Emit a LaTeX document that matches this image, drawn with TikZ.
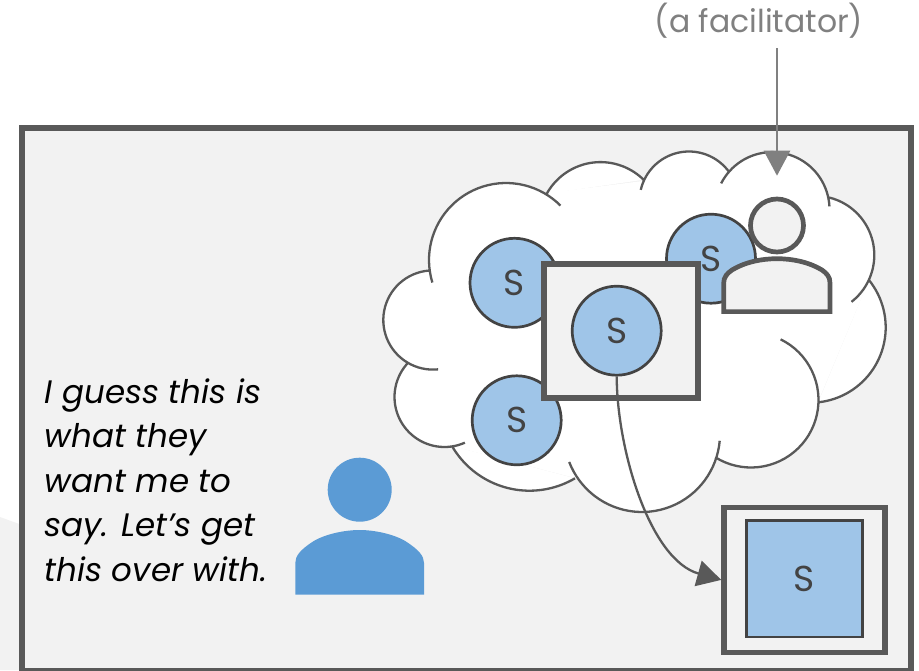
\documentclass[tikz,border=0pt]{standalone}
\usepackage{fontspec}
\setmainfont{Poppins}[ItalicFont=* Italic]
\usepackage{xcolor}
\usetikzlibrary{arrows.meta}
\definecolor{framegray}{HTML}{595959}
\definecolor{panelgray}{HTML}{F2F2F2}
\definecolor{inkgray}{HTML}{434343}
\definecolor{labelgray}{HTML}{808080}
\definecolor{studentblue}{HTML}{9FC5E8}
\definecolor{personblue}{HTML}{5B9BD5}
\tikzset{
	student/.style={circle, draw=inkgray, fill=studentblue, line width=2.7pt, minimum size=89pt, inner sep=0pt, text=inkgray, font=\fontsize{36}{36}\selectfont},
	frontbox/.style={draw=framegray, fill=panelgray, line width=5.6pt, inner sep=0pt},
	cloudline/.style={draw=framegray, line width=2.3pt},
}
\newcommand{\lobe}[5]{plot[domain=#4:#5, samples=40] ({#1+#3*cos(\x)},{#2+#3*sin(\x)})}
\newcommand{\cloudlobes}{
	\lobe{506}{260}{77}{163}{315}
	\lobe{600.5}{223.6}{61.5}{209}{314.5}
	\lobe{689}{201}{49.5}{193}{324}
	\lobe{772.2}{209.4}{57.3}{207}{357}
	\lobe{815}{255.1}{59.3}{284}{412}
	\lobe{810.4}{327.4}{75.3}{-39}{84}
	\lobe{751}{400}{67.5}{-64}{122}
	\lobe{642}{434}{78}{5}{159}
	\lobe{529.5}{401.1}{89.6}{59.5}{150}
	\lobe{444.5}{397}{50}{66}{224}
	\lobe{432.9}{320}{49.6}{84}{265}
}
\begin{document}
\begin{tikzpicture}[x=1pt,y=-1pt]
	\useasboundingbox (0,0) rectangle (919,670);
	\fill[panelgray] (0,517) -- (22,525) -- (22,670) -- (0,670) -- cycle;
	\draw[line width=6pt, draw=framegray, fill=panelgray] (22,127.5) rectangle (911,671);

	\fill[white] (428,272) -- (547,193) -- (643,181) -- (730,172) -- (829,200) -- (869,280) -- (818,402) -- (716,457) -- (575,478) -- (452,446) -- (409,363) -- cycle;
	\fill[white] \cloudlobes;
	\draw[cloudline] \cloudlobes;

	\node[student] (studentleft) at (514.5,282.8) {S};
	\node[student] (studentright) at (711,258.7) {S};
	\node[student] (studentlow) at (516.7,420.3) {S};
	\node[frontbox, minimum width=154pt, minimum height=134.3pt] (chosenbox) at (621.2,331) {};
	\node[student] (studentmid) at (616.7,330.7) {S};

	\node[circle, draw=framegray, fill=panelgray, line width=4.7pt, minimum size=53pt, inner sep=0pt] (facilhead) at (777,225.5) {};
	\draw[draw=framegray, fill=panelgray, line width=4.7pt] (723.7,311.6) -- (723.7,283) .. controls (723.7,277) and (727,273.5) .. (732,270) .. controls (745,262) and (762,258.7) .. (777,258.7) .. controls (792,258.7) and (809,262) .. (822,270) .. controls (827,273.5) and (830,277) .. (830,283) -- (830,311.6) -- cycle;

	\node[circle, fill=personblue, minimum size=64pt, inner sep=0pt] (speakerhead) at (359.7,489.7) {};
	\fill[personblue] (295.3,594.7) -- (295.3,563) .. controls (295.3,556) and (300,550) .. (313,541.5) .. controls (325,534) and (345,530) .. (359.7,530) .. controls (374,530) and (394,534) .. (406,541.5) .. controls (419,550) and (424,556) .. (424,563) -- (424,594.7) -- cycle;

	\node[frontbox, minimum width=161.1pt, minimum height=144.9pt] (answerbox) at (804.6,579.9) {};
	\node[rectangle, draw=inkgray, fill=studentblue, line width=2.5pt, minimum width=116.4pt, minimum height=116.7pt, inner sep=0pt, text=inkgray, font=\fontsize{36}{36}\selectfont] (answer) at (804.5,578.7) {S};

	\draw[draw=framegray, line width=2.3pt, -{Triangle[length=24pt,width=26pt]}] (studentmid.south) .. controls (617,450) and (650,560) .. (answerbox.west);

	\node[anchor=base, text=labelgray, font=\fontsize{31.5}{32}\selectfont] (facillabel) at (759,32) {(a facilitator)};
	\coordinate (arrowstart) at (777,48);
	\coordinate (arrowtip) at (777,175.7);
	\draw[draw=labelgray, line width=2.5pt, -{Triangle[length=25pt,width=26pt]}] (arrowstart) -- (arrowtip);

	\node[anchor=north west, align=left, inner sep=0pt, text=black, font=\fontsize{32.5}{44.4}\selectfont\itshape] (quote) at (44.5,378.5) {I guess this is\\what they\\want me to\\say. Let’s get\\this over with.};
\end{tikzpicture}
\end{document}
